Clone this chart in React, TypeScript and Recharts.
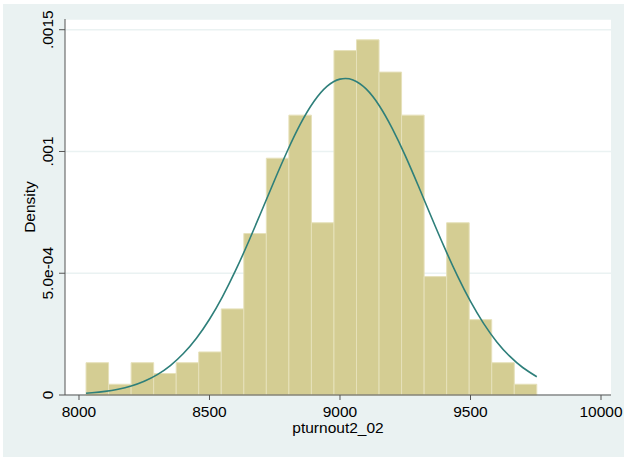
import {
  ComposedChart,
  Line,
  XAxis,
  YAxis,
  CartesianGrid,
  ReferenceArea,
} from "recharts";

// histogram bins (lower edges + final upper edge) and densities
const binEdges = [
  8027, 8113.4, 8199.7, 8286.1, 8372.4, 8458.8, 8545.1, 8631.5, 8717.8, 8804.2,
  8890.5, 8976.9, 9063.2, 9149.6, 9235.9, 9322.3, 9408.6, 9495, 9581.3, 9667.7, 9754,
];
const binDensity = [
  0.0001326, 0.0000442, 0.0001326, 0.0000884, 0.0001326, 0.0001768, 0.0003536,
  0.000663, 0.0009724, 0.0011492, 0.0007072, 0.0014144, 0.0014586, 0.001326,
  0.0011492, 0.0004862, 0.0007072, 0.0003094, 0.0001326, 0.0000442,
];

// normal density overlay
const curveX = [
  8027, 8050, 8100, 8150, 8200, 8250, 8300, 8350, 8400, 8450, 8500, 8550, 8600,
  8650, 8700, 8750, 8800, 8850, 8900, 8950, 9000, 9050, 9100, 9150, 9200, 9250,
  9300, 9350, 9400, 9450, 9500, 9550, 9600, 9650, 9700, 9754,
];
const curveY = [
  0.0000071, 0.000009, 0.0000148, 0.0000238, 0.0000371, 0.0000566, 0.0000838,
  0.0001211, 0.0001703, 0.0002332, 0.0003111, 0.0004043, 0.0005115, 0.0006302,
  0.0007565, 0.0008841, 0.001006, 0.001116, 0.001205, 0.001267, 0.001297,
  0.001294, 0.001257, 0.001189, 0.001095, 0.000983, 0.000859, 0.000731,
  0.000606, 0.000489, 0.000384, 0.000294, 0.000219, 0.0001594, 0.000113,
  0.000075,
];

const xTicks = [8000, 8500, 9000, 9500, 10000];
const yTicks = [0, 0.0005, 0.001, 0.0015];
const yTickLabels = ["0", "5.0e-04", ".001", ".0015"];

const FONT = "'Liberation Sans', Arial, Helvetica, sans-serif";
const AXIS = "#555";

const data = curveX.map((x, i) => ({ x, y: curveY[i] }));

const YTick = ({ x, y, payload }: any) => {
  const i = yTicks.indexOf(payload.value);
  return (
    <text
      transform={`translate(${x - 4},${y}) rotate(-90)`}
      textAnchor="middle"
      fontSize={15.5}
      fontFamily={FONT}
      fill="#000"
    >
      {i >= 0 ? yTickLabels[i] : payload.value}
    </text>
  );
};

export default function App() {
  return (
    <div
      style={{
        position: "absolute",
        left: 0,
        top: 0,
        width: 624,
        height: 457,
        background: "#fff",
      }}
    >
      <div
        style={{
          position: "absolute",
          left: 3,
          top: 4,
          width: 621,
          height: 453,
          background: "#EAF2F2",
        }}
      />
      <div style={{ position: "absolute", left: 0, top: 0 }}>
        <ComposedChart
          width={624}
          height={457}
          data={data}
          margin={{ top: 19, right: 13, bottom: 22, left: 15 }}
        >
          <CartesianGrid
            vertical={false}
            stroke="#EAF2F2"
            strokeWidth={1.5}
            fill="#fff"
          />
          <XAxis
            dataKey="x"
            type="number"
            domain={[7946.4, 10038.3]}
            ticks={xTicks}
            allowDataOverflow
            height={40}
            stroke={AXIS}
            tickSize={5}
            tickMargin={6}
            tick={{ fill: "#000", fontSize: 15.5, fontFamily: FONT }}
            label={{
              content: ({ viewBox }: any) => (
                <text
                  x={viewBox.x + viewBox.width / 2}
                  y={viewBox.y + 38}
                  textAnchor="middle"
                  fontSize={15.5}
                  fontFamily={FONT}
                  fill="#000"
                >
                  pturnout2_02
                </text>
              ),
            }}
          />
          <YAxis
            type="number"
            domain={[0, 0.001544]}
            ticks={yTicks}
            allowDataOverflow
            width={50}
            stroke={AXIS}
            tickSize={6}
            tick={<YTick />}
            label={{
              content: ({ viewBox }: any) => (
                <text
                  transform={`translate(${viewBox.x + 20},${viewBox.y + viewBox.height / 2}) rotate(-90)`}
                  textAnchor="middle"
                  fontSize={15.5}
                  fontFamily={FONT}
                  fill="#000"
                >
                  Density
                </text>
              ),
            }}
          />
          {binDensity.map((d, i) => (
            <ReferenceArea
              key={i}
              x1={binEdges[i]}
              x2={binEdges[i + 1]}
              y1={0}
              y2={d}
              fill="#D4CD93"
              fillOpacity={1}
              stroke="#E6E1BA"
              strokeWidth={1}
              ifOverflow="visible"
            />
          ))}
          <Line
            dataKey="y"
            type="natural"
            stroke="#2E7F7A"
            strokeWidth={1.6}
            dot={false}
            isAnimationActive={false}
          />
        </ComposedChart>
      </div>
    </div>
  );
}
